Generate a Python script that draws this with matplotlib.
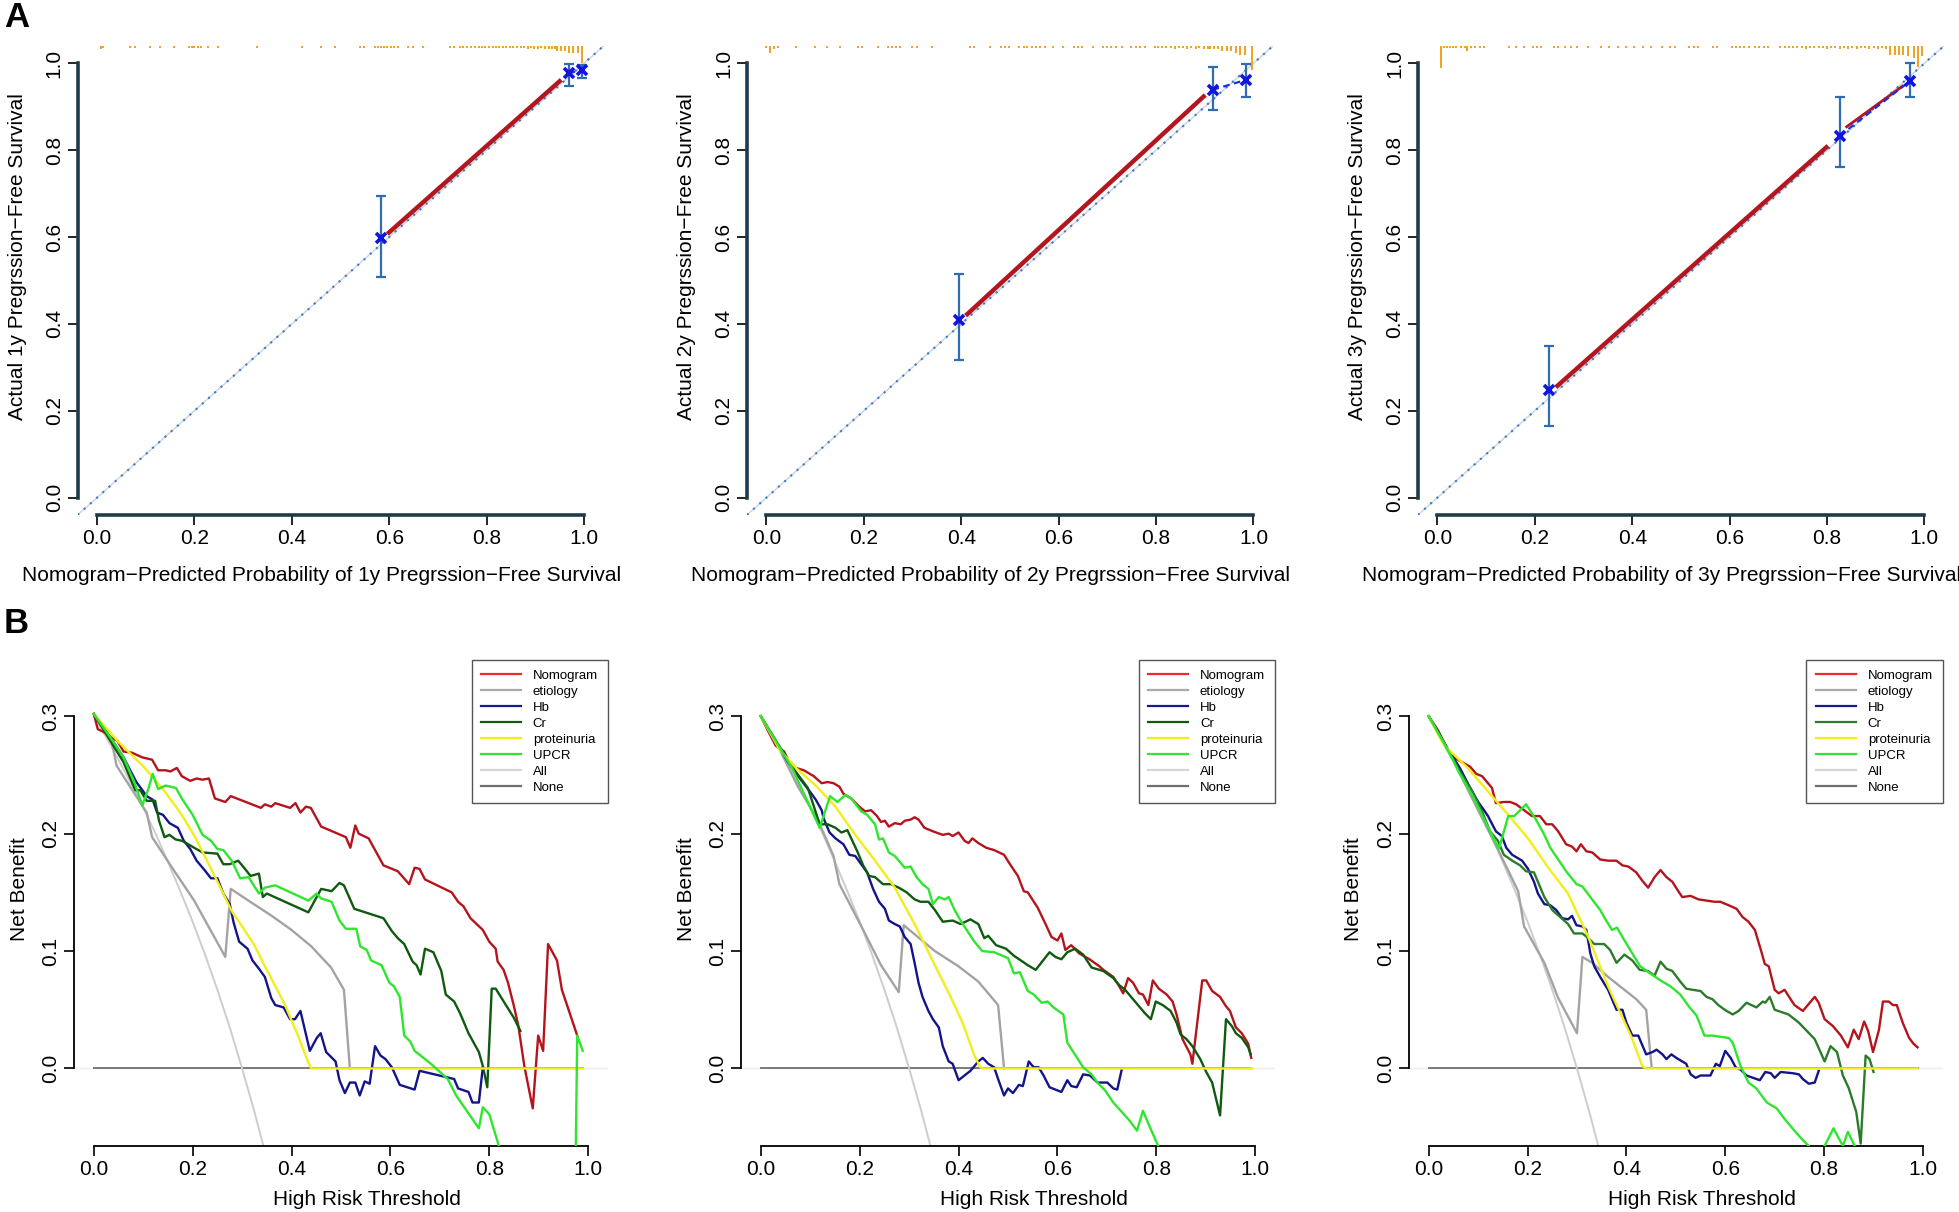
import matplotlib
matplotlib.use("Agg")
import matplotlib.pyplot as plt
from matplotlib.lines import Line2D
from matplotlib.transforms import offset_copy
import numpy as np

plt.rcParams['font.family'] = ['Liberation Sans', 'DejaVu Sans']

# ---------------- A: calibration data ----------------
cal1_pred = [0.583, 0.968, 0.995]
cal1_obs = [0.597, 0.977, 0.985]
cal1_lo = [0.507, 0.947, 0.967]
cal1_hi = [0.694, 0.998, 0.996]
cal1_red = [[(0.596, 0.607), (0.953, 0.962)]]

cal2_pred = [0.395, 0.916, 0.985]
cal2_obs = [0.408, 0.939, 0.962]
cal2_lo = [0.317, 0.893, 0.923]
cal2_hi = [0.514, 0.992, 0.999]
cal2_red = [[(0.409, 0.419), (0.901, 0.927)]]

cal3_pred = [0.230, 0.826, 0.970]
cal3_obs = [0.248, 0.833, 0.959]
cal3_lo = [0.165, 0.761, 0.923]
cal3_hi = [0.348, 0.922, 1.000]
cal3_red = [[(0.243, 0.254), (0.802, 0.810)], [(0.838, 0.852), (0.957, 0.949)]]

# distribution of predictions (rug on top), position and count
rug1_x = [0.008, 0.012, 0.068, 0.077, 0.108, 0.130, 0.158, 0.188, 0.194, 0.200,
          0.207, 0.214, 0.227, 0.248, 0.328, 0.420, 0.459, 0.489, 0.540, 0.549,
          0.570, 0.576, 0.583, 0.590, 0.596, 0.603, 0.609, 0.617, 0.639, 0.648,
          0.669, 0.725, 0.733, 0.746, 0.752, 0.760, 0.768, 0.776, 0.784, 0.790,
          0.797, 0.805, 0.812, 0.820, 0.826, 0.833, 0.840, 0.847, 0.855, 0.862,
          0.870, 0.877, 0.884, 0.890, 0.897, 0.905, 0.912, 0.920, 0.927, 0.934,
          0.940, 0.944, 0.952, 0.961, 0.970, 0.978, 0.987, 0.996]
rug1_n = [2, 1, 1, 1, 1, 1, 1, 1, 1, 1,
          1, 1, 1, 1, 1, 1, 1, 1, 1, 1,
          1, 1, 1, 1, 1, 1, 1, 1, 1, 1,
          1, 1, 1, 1, 1, 1, 1, 1, 1, 1,
          1, 1, 1, 1, 1, 1, 1, 1, 1, 1,
          1, 1, 2, 1, 2, 2, 1, 2, 2, 2,
          2, 3, 3, 3, 4, 4, 4, 10]

rug2_x = [0.000, 0.007, 0.015, 0.023, 0.060, 0.099, 0.124, 0.150, 0.189, 0.197,
          0.229, 0.249, 0.258, 0.266, 0.275, 0.298, 0.309, 0.339, 0.418, 0.427,
          0.459, 0.481, 0.489, 0.498, 0.519, 0.528, 0.536, 0.545, 0.554, 0.562,
          0.571, 0.588, 0.609, 0.631, 0.639, 0.648, 0.670, 0.691, 0.700, 0.708,
          0.717, 0.730, 0.749, 0.758, 0.768, 0.777, 0.798, 0.804, 0.813, 0.821,
          0.830, 0.838, 0.847, 0.855, 0.864, 0.872, 0.881, 0.889, 0.898, 0.906,
          0.910, 0.919, 0.928, 0.936, 0.945, 0.953, 0.964, 0.973, 0.983, 0.996]
rug2_n = [1, 4, 2, 1, 1, 1, 1, 1, 1, 1,
          1, 1, 1, 1, 1, 1, 1, 1, 1, 1,
          1, 1, 1, 1, 1, 1, 1, 1, 1, 1,
          1, 1, 1, 1, 1, 1, 1, 1, 1, 1,
          1, 1, 1, 1, 1, 1, 1, 1, 1, 1,
          1, 2, 1, 1, 2, 1, 2, 1, 2, 2,
          2, 2, 2, 3, 3, 3, 4, 5, 5, 14]

rug3_x = [0.007, 0.013, 0.019, 0.026, 0.033, 0.039, 0.048, 0.057, 0.061, 0.068,
          0.077, 0.087, 0.096, 0.148, 0.161, 0.178, 0.196, 0.204, 0.213, 0.239,
          0.248, 0.261, 0.274, 0.287, 0.309, 0.335, 0.352, 0.370, 0.387, 0.404,
          0.422, 0.439, 0.461, 0.478, 0.487, 0.517, 0.526, 0.535, 0.565, 0.574,
          0.604, 0.613, 0.622, 0.630, 0.639, 0.652, 0.661, 0.670, 0.678, 0.704,
          0.713, 0.722, 0.730, 0.739, 0.748, 0.757, 0.765, 0.774, 0.783, 0.791,
          0.800, 0.809, 0.817, 0.826, 0.835, 0.843, 0.852, 0.861, 0.870, 0.878,
          0.887, 0.896, 0.904, 0.913, 0.922, 0.930, 0.939, 0.948, 0.957, 0.967,
          0.978, 0.987, 0.996]
rug3_n = [13, 1, 1, 1, 1, 1, 1, 1, 3, 1,
          1, 1, 1, 1, 1, 1, 1, 1, 1, 1,
          1, 1, 1, 1, 1, 1, 1, 1, 1, 1,
          1, 1, 1, 1, 1, 1, 1, 1, 1, 1,
          1, 1, 1, 1, 1, 1, 1, 1, 1, 1,
          1, 1, 1, 1, 1, 2, 1, 1, 1, 1,
          2, 1, 1, 2, 1, 2, 1, 2, 1, 1,
          2, 1, 2, 1, 2, 5, 5, 5, 5, 6,
          7, 12, 6]

# ---------------- B: decision curves (threshold, net benefit) ----------------
nb_all = [(0.000, 0.300), (0.025, 0.282), (0.050, 0.263), (0.075, 0.243), (0.100, 0.222),
          (0.125, 0.200), (0.150, 0.176), (0.175, 0.151), (0.200, 0.125), (0.225, 0.097),
          (0.250, 0.067), (0.275, 0.035), (0.300, 0.000), (0.325, -0.037), (0.350, -0.077)]
nb_none = [(0.0, 0.0), (0.99, 0.0)]

b1_nomogram = [(0.000, 0.302), (0.008, 0.289), (0.023, 0.286), (0.035, 0.282), (0.048, 0.279),
               (0.060, 0.270), (0.077, 0.269), (0.098, 0.265), (0.118, 0.263), (0.130, 0.254),
               (0.145, 0.254), (0.155, 0.253), (0.168, 0.256), (0.178, 0.249), (0.195, 0.245),
               (0.208, 0.247), (0.220, 0.246), (0.233, 0.247), (0.245, 0.230), (0.266, 0.227),
               (0.277, 0.232), (0.338, 0.222), (0.346, 0.225), (0.359, 0.223), (0.367, 0.226),
               (0.397, 0.222), (0.408, 0.226), (0.418, 0.218), (0.429, 0.223), (0.439, 0.222),
               (0.460, 0.206), (0.477, 0.203), (0.510, 0.197), (0.519, 0.188), (0.529, 0.207),
               (0.536, 0.200), (0.556, 0.196), (0.586, 0.173), (0.615, 0.168), (0.638, 0.157),
               (0.649, 0.171), (0.659, 0.170), (0.670, 0.161), (0.724, 0.150), (0.737, 0.142),
               (0.748, 0.138), (0.762, 0.128), (0.787, 0.118), (0.800, 0.108), (0.813, 0.102),
               (0.817, 0.091), (0.829, 0.084), (0.838, 0.073), (0.850, 0.053), (0.859, 0.036),
               (0.871, 0.002), (0.888, -0.034), (0.899, 0.028), (0.909, 0.015), (0.919, 0.106),
               (0.937, 0.092), (0.947, 0.067), (0.978, 0.028)]
b1_etiology = [(0.000, 0.302), (0.035, 0.281), (0.046, 0.258), (0.107, 0.218), (0.118, 0.197),
               (0.160, 0.170), (0.203, 0.143), (0.266, 0.095), (0.277, 0.153), (0.320, 0.141),
               (0.360, 0.130), (0.400, 0.118), (0.440, 0.104), (0.480, 0.086), (0.506, 0.067),
               (0.518, 0.000)]
b1_hb = [(0.000, 0.302), (0.035, 0.281), (0.060, 0.265), (0.086, 0.244), (0.107, 0.232),
         (0.119, 0.229), (0.128, 0.218), (0.140, 0.216), (0.153, 0.209), (0.170, 0.205),
         (0.182, 0.194), (0.195, 0.187), (0.208, 0.177), (0.224, 0.169), (0.237, 0.162),
         (0.250, 0.162), (0.262, 0.149), (0.275, 0.140), (0.283, 0.124), (0.294, 0.108),
         (0.311, 0.102), (0.321, 0.092), (0.334, 0.085), (0.346, 0.078), (0.359, 0.060),
         (0.367, 0.054), (0.384, 0.052), (0.397, 0.042), (0.407, 0.042), (0.418, 0.049),
         (0.437, 0.015), (0.451, 0.026), (0.459, 0.030), (0.470, 0.014), (0.489, 0.006),
         (0.497, -0.010), (0.508, -0.021), (0.518, -0.012), (0.529, -0.012), (0.538, -0.023),
         (0.548, -0.011), (0.558, -0.013), (0.569, 0.019), (0.580, 0.011), (0.590, 0.008),
         (0.603, 0.001), (0.619, -0.014), (0.649, -0.018), (0.659, -0.002), (0.729, -0.009),
         (0.737, -0.017), (0.758, -0.020), (0.766, -0.029), (0.779, -0.029), (0.787, 0.001)]
b1_cr = [(0.000, 0.302), (0.035, 0.278), (0.060, 0.261), (0.084, 0.237), (0.094, 0.237),
         (0.107, 0.228), (0.124, 0.228), (0.132, 0.211), (0.143, 0.197), (0.153, 0.199),
         (0.166, 0.195), (0.178, 0.194), (0.191, 0.191), (0.203, 0.188), (0.220, 0.184),
         (0.250, 0.183), (0.262, 0.174), (0.275, 0.174), (0.292, 0.177), (0.304, 0.171),
         (0.317, 0.164), (0.334, 0.166), (0.342, 0.146), (0.350, 0.149), (0.434, 0.133),
         (0.460, 0.153), (0.481, 0.151), (0.497, 0.158), (0.506, 0.156), (0.527, 0.136),
         (0.586, 0.128), (0.603, 0.117), (0.615, 0.111), (0.628, 0.106), (0.645, 0.091),
         (0.653, 0.088), (0.661, 0.080), (0.670, 0.102), (0.687, 0.099), (0.703, 0.083),
         (0.712, 0.063), (0.729, 0.057), (0.741, 0.047), (0.758, 0.030), (0.779, 0.014),
         (0.787, 0.002), (0.796, -0.016), (0.805, 0.068), (0.813, 0.068), (0.850, 0.043),
         (0.863, 0.032)]
b1_proteinuria = [(0.000, 0.302), (0.048, 0.279), (0.103, 0.256), (0.140, 0.238), (0.178, 0.216),
                  (0.205, 0.197), (0.229, 0.177), (0.255, 0.155), (0.279, 0.134), (0.300, 0.121),
                  (0.325, 0.105), (0.346, 0.087), (0.370, 0.068), (0.388, 0.053), (0.413, 0.028),
                  (0.434, 0.005), (0.440, 0.000), (0.990, 0.000)]
b1_upcr = [(0.000, 0.302), (0.035, 0.281), (0.060, 0.265), (0.082, 0.244), (0.098, 0.224),
           (0.111, 0.239), (0.119, 0.251), (0.130, 0.238), (0.145, 0.241), (0.166, 0.239),
           (0.178, 0.230), (0.200, 0.216), (0.220, 0.199), (0.237, 0.194), (0.250, 0.187),
           (0.262, 0.186), (0.279, 0.177), (0.296, 0.162), (0.313, 0.163), (0.334, 0.149),
           (0.346, 0.154), (0.367, 0.156), (0.434, 0.143), (0.451, 0.149), (0.459, 0.145),
           (0.481, 0.142), (0.497, 0.126), (0.510, 0.119), (0.531, 0.119), (0.539, 0.104),
           (0.552, 0.101), (0.561, 0.092), (0.582, 0.088), (0.598, 0.073), (0.607, 0.070),
           (0.619, 0.061), (0.628, 0.028), (0.640, 0.023), (0.649, 0.015), (0.682, 0.004),
           (0.716, -0.009), (0.733, -0.023), (0.779, -0.051), (0.787, -0.033), (0.800, -0.039),
           (0.821, -0.068), (np.nan, np.nan), (0.975, -0.070), (0.978, 0.028), (0.989, 0.015)]

b2_nomogram = [(0.000, 0.300), (0.014, 0.288), (0.030, 0.275), (0.047, 0.270), (0.055, 0.263),
               (0.071, 0.256), (0.087, 0.254), (0.107, 0.249), (0.123, 0.243), (0.135, 0.244),
               (0.147, 0.243), (0.159, 0.240), (0.167, 0.234), (0.183, 0.230), (0.199, 0.223),
               (0.211, 0.219), (0.223, 0.220), (0.235, 0.215), (0.243, 0.210), (0.251, 0.211),
               (0.259, 0.206), (0.271, 0.209), (0.283, 0.208), (0.291, 0.211), (0.303, 0.212),
               (0.311, 0.214), (0.319, 0.212), (0.331, 0.205), (0.348, 0.202), (0.368, 0.199),
               (0.380, 0.200), (0.388, 0.198), (0.400, 0.201), (0.412, 0.194), (0.420, 0.192),
               (0.428, 0.196), (0.440, 0.192), (0.456, 0.188), (0.472, 0.186), (0.492, 0.182),
               (0.504, 0.174), (0.520, 0.164), (0.532, 0.151), (0.540, 0.150), (0.560, 0.137),
               (0.576, 0.123), (0.588, 0.112), (0.600, 0.109), (0.608, 0.115), (0.616, 0.101),
               (0.628, 0.105), (0.644, 0.098), (0.665, 0.093), (0.685, 0.087), (0.693, 0.084),
               (0.713, 0.078), (0.725, 0.070), (0.733, 0.064), (0.743, 0.077), (0.753, 0.073),
               (0.765, 0.064), (0.773, 0.063), (0.784, 0.054), (0.793, 0.075), (0.805, 0.068),
               (0.821, 0.063), (0.833, 0.057), (0.841, 0.046), (0.853, 0.025), (0.869, 0.012),
               (0.873, 0.004), (0.893, 0.075), (0.901, 0.075), (0.913, 0.066), (0.929, 0.061),
               (0.941, 0.053), (0.949, 0.049), (0.961, 0.035), (0.973, 0.030), (0.986, 0.021),
               (0.992, 0.009)]
b2_etiology = [(0.000, 0.300), (0.040, 0.270), (0.075, 0.240), (0.115, 0.212), (0.147, 0.181),
               (0.159, 0.157), (0.207, 0.118), (0.243, 0.088), (0.279, 0.065), (0.289, 0.122),
               (0.352, 0.100), (0.400, 0.087), (0.440, 0.074), (0.480, 0.054), (0.492, 0.000)]
b2_hb = [(0.000, 0.300), (0.055, 0.261), (0.079, 0.247), (0.099, 0.236), (0.111, 0.229),
         (0.123, 0.220), (0.127, 0.213), (0.139, 0.201), (0.151, 0.196), (0.167, 0.191),
         (0.179, 0.182), (0.191, 0.181), (0.203, 0.174), (0.215, 0.167), (0.227, 0.153),
         (0.239, 0.142), (0.251, 0.136), (0.259, 0.126), (0.271, 0.123), (0.281, 0.121),
         (0.291, 0.112), (0.303, 0.106), (0.311, 0.090), (0.319, 0.073), (0.327, 0.061),
         (0.339, 0.049), (0.348, 0.042), (0.360, 0.035), (0.368, 0.019), (0.380, 0.006),
         (0.388, 0.004), (0.400, -0.010), (0.424, -0.002), (0.432, 0.002), (0.440, 0.006),
         (0.449, 0.009), (0.460, 0.004), (0.472, 0.001), (0.480, -0.009), (0.492, -0.023),
         (0.500, -0.017), (0.510, -0.021), (0.522, -0.014), (0.530, -0.015), (0.542, 0.006),
         (0.552, 0.001), (0.562, 0.001), (0.572, -0.006), (0.584, -0.016), (0.608, -0.020),
         (0.620, -0.010), (0.628, -0.015), (0.639, -0.016), (0.652, -0.005), (0.666, -0.006),
         (0.681, -0.012), (0.701, -0.012), (0.713, -0.017), (0.721, -0.018), (0.730, -0.001)]
b2_cr = [(0.000, 0.300), (0.063, 0.257), (0.095, 0.239), (0.119, 0.208), (0.135, 0.208),
         (0.151, 0.205), (0.163, 0.201), (0.175, 0.203), (0.195, 0.185), (0.207, 0.173),
         (0.219, 0.164), (0.231, 0.163), (0.247, 0.157), (0.263, 0.157), (0.279, 0.154),
         (0.295, 0.150), (0.311, 0.144), (0.323, 0.142), (0.339, 0.142), (0.352, 0.135),
         (0.368, 0.125), (0.388, 0.126), (0.404, 0.123), (0.424, 0.127), (0.440, 0.123),
         (0.452, 0.111), (0.460, 0.113), (0.476, 0.105), (0.496, 0.102), (0.512, 0.096),
         (0.540, 0.088), (0.556, 0.084), (0.584, 0.099), (0.596, 0.095), (0.608, 0.093),
         (0.620, 0.099), (0.636, 0.102), (0.652, 0.097), (0.669, 0.086), (0.693, 0.083),
         (0.713, 0.077), (0.725, 0.071), (0.737, 0.067), (0.749, 0.061), (0.765, 0.053),
         (0.777, 0.047), (0.789, 0.042), (0.799, 0.057), (0.813, 0.054), (0.829, 0.049),
         (0.841, 0.039), (0.849, 0.029), (0.861, 0.025), (0.873, 0.019), (0.889, 0.008),
         (0.901, -0.003), (0.913, -0.012), (0.929, -0.040), (0.941, 0.042), (0.953, 0.036),
         (0.961, 0.030), (0.973, 0.026), (0.986, 0.018), (0.991, 0.012)]
b2_proteinuria = [(0.000, 0.300), (0.039, 0.271), (0.071, 0.256), (0.111, 0.241), (0.151, 0.223),
                  (0.191, 0.199), (0.231, 0.177), (0.271, 0.154), (0.311, 0.123), (0.352, 0.088),
                  (0.384, 0.061), (0.408, 0.039), (0.432, 0.011), (0.444, 0.001), (0.449, 0.000),
                  (0.994, 0.000)]
b2_upcr = [(0.000, 0.300), (0.063, 0.256), (0.095, 0.227), (0.119, 0.205), (0.140, 0.232),
           (0.155, 0.227), (0.171, 0.233), (0.183, 0.230), (0.203, 0.219), (0.215, 0.216),
           (0.231, 0.208), (0.239, 0.195), (0.247, 0.196), (0.259, 0.184), (0.271, 0.181),
           (0.291, 0.171), (0.303, 0.172), (0.315, 0.163), (0.327, 0.157), (0.339, 0.153),
           (0.348, 0.140), (0.360, 0.146), (0.372, 0.144), (0.380, 0.146), (0.392, 0.135),
           (0.404, 0.126), (0.432, 0.108), (0.448, 0.100), (0.472, 0.099), (0.500, 0.094),
           (0.512, 0.081), (0.524, 0.082), (0.540, 0.066), (0.552, 0.063), (0.568, 0.056),
           (0.580, 0.057), (0.592, 0.052), (0.612, 0.046), (0.620, 0.022), (0.652, 0.001),
           (0.669, -0.005), (0.681, -0.012), (0.697, -0.019), (0.713, -0.029), (0.745, -0.044),
           (0.761, -0.053), (0.773, -0.036), (0.785, -0.048), (0.808, -0.070)]

b3_nomogram = [(0.000, 0.300), (0.019, 0.288), (0.035, 0.274), (0.051, 0.265), (0.067, 0.261),
               (0.084, 0.257), (0.096, 0.251), (0.108, 0.249), (0.120, 0.243), (0.128, 0.239),
               (0.136, 0.226), (0.152, 0.227), (0.165, 0.227), (0.177, 0.225), (0.193, 0.220),
               (0.209, 0.215), (0.225, 0.215), (0.238, 0.208), (0.250, 0.208), (0.262, 0.202),
               (0.278, 0.191), (0.290, 0.189), (0.299, 0.185), (0.308, 0.191), (0.319, 0.185),
               (0.331, 0.184), (0.347, 0.178), (0.363, 0.177), (0.380, 0.177), (0.392, 0.173),
               (0.404, 0.172), (0.420, 0.167), (0.432, 0.160), (0.444, 0.154), (0.457, 0.163),
               (0.469, 0.169), (0.481, 0.163), (0.493, 0.159), (0.505, 0.151), (0.513, 0.146),
               (0.530, 0.147), (0.546, 0.144), (0.562, 0.143), (0.578, 0.142), (0.590, 0.142),
               (0.607, 0.139), (0.623, 0.136), (0.635, 0.129), (0.647, 0.125), (0.660, 0.118),
               (0.672, 0.101), (0.680, 0.089), (0.688, 0.087), (0.700, 0.067), (0.708, 0.064),
               (0.720, 0.067), (0.740, 0.054), (0.757, 0.049), (0.767, 0.054), (0.781, 0.061),
               (0.789, 0.056), (0.801, 0.042), (0.818, 0.036), (0.834, 0.028), (0.848, 0.018),
               (0.860, 0.033), (0.870, 0.025), (0.881, 0.040), (0.889, 0.032), (0.899, 0.014),
               (0.911, 0.033), (0.919, 0.057), (0.931, 0.057), (0.939, 0.054), (0.947, 0.054),
               (0.959, 0.039), (0.972, 0.026), (0.981, 0.021), (0.989, 0.018)]
b3_etiology = [(0.000, 0.300), (0.050, 0.262), (0.100, 0.220), (0.136, 0.190), (0.165, 0.165),
               (0.181, 0.151), (0.193, 0.121), (0.234, 0.090), (0.262, 0.060), (0.300, 0.030),
               (0.311, 0.095), (0.331, 0.090), (0.363, 0.078), (0.396, 0.067), (0.420, 0.059),
               (0.440, 0.050), (0.451, 0.001)]
b3_hb = [(0.000, 0.300), (0.039, 0.272), (0.063, 0.256), (0.084, 0.239), (0.100, 0.227),
         (0.112, 0.220), (0.120, 0.215), (0.136, 0.202), (0.148, 0.198), (0.157, 0.188),
         (0.169, 0.182), (0.189, 0.177), (0.201, 0.170), (0.213, 0.159), (0.221, 0.149),
         (0.234, 0.140), (0.246, 0.139), (0.258, 0.135), (0.270, 0.128), (0.282, 0.127),
         (0.290, 0.130), (0.299, 0.122), (0.311, 0.121), (0.319, 0.118), (0.327, 0.098),
         (0.335, 0.087), (0.347, 0.078), (0.363, 0.067), (0.380, 0.050), (0.392, 0.050),
         (0.400, 0.039), (0.412, 0.028), (0.424, 0.028), (0.440, 0.012), (0.453, 0.014),
         (0.461, 0.016), (0.473, 0.012), (0.481, 0.008), (0.491, 0.012), (0.501, 0.009),
         (0.513, 0.006), (0.521, 0.004), (0.530, -0.005), (0.540, -0.008), (0.550, -0.006),
         (0.570, -0.006), (0.581, 0.004), (0.589, 0.002), (0.600, 0.015), (0.611, 0.009),
         (0.621, 0.001), (0.631, -0.001), (0.643, -0.006), (0.670, -0.010), (0.681, -0.003),
         (0.692, -0.004), (0.700, -0.008), (0.712, -0.003), (0.736, -0.004), (0.749, -0.005),
         (0.757, -0.009), (0.769, -0.013), (0.781, -0.012), (0.789, -0.002)]
b3_cr = [(0.000, 0.300), (0.039, 0.272), (0.063, 0.253), (0.088, 0.236), (0.108, 0.219),
         (0.124, 0.202), (0.140, 0.194), (0.152, 0.182), (0.169, 0.177), (0.185, 0.173),
         (0.197, 0.168), (0.213, 0.167), (0.221, 0.159), (0.234, 0.146), (0.250, 0.135),
         (0.266, 0.129), (0.282, 0.123), (0.294, 0.115), (0.311, 0.115), (0.323, 0.111),
         (0.335, 0.106), (0.355, 0.106), (0.367, 0.101), (0.380, 0.090), (0.396, 0.097),
         (0.412, 0.092), (0.427, 0.084), (0.444, 0.083), (0.457, 0.079), (0.469, 0.091),
         (0.481, 0.085), (0.493, 0.083), (0.509, 0.074), (0.521, 0.068), (0.534, 0.067),
         (0.550, 0.066), (0.562, 0.061), (0.574, 0.059), (0.586, 0.054), (0.599, 0.050),
         (0.615, 0.046), (0.627, 0.049), (0.643, 0.056), (0.663, 0.052), (0.676, 0.057),
         (0.681, 0.056), (0.690, 0.061), (0.700, 0.050), (0.728, 0.046), (0.749, 0.039),
         (0.765, 0.032), (0.781, 0.025), (0.801, 0.006), (0.813, 0.019), (0.826, 0.014),
         (0.838, -0.006), (0.850, -0.017), (0.865, -0.037), (0.874, -0.064), (0.884, 0.011),
         (0.892, 0.008), (0.900, -0.003)]
b3_proteinuria = [(0.000, 0.300), (0.030, 0.276), (0.079, 0.256), (0.120, 0.236), (0.161, 0.216),
                  (0.201, 0.196), (0.242, 0.171), (0.282, 0.149), (0.323, 0.112), (0.363, 0.070),
                  (0.388, 0.047), (0.412, 0.025), (0.432, 0.002), (0.440, 0.000), (0.989, 0.000)]
b3_upcr = [(0.000, 0.300), (0.039, 0.271), (0.063, 0.251), (0.088, 0.233), (0.108, 0.216),
           (0.128, 0.199), (0.142, 0.187), (0.161, 0.215), (0.173, 0.215), (0.197, 0.225),
           (0.217, 0.212), (0.234, 0.199), (0.246, 0.188), (0.262, 0.178), (0.278, 0.168),
           (0.299, 0.157), (0.311, 0.155), (0.327, 0.146), (0.347, 0.135), (0.359, 0.126),
           (0.371, 0.118), (0.381, 0.120), (0.392, 0.112), (0.412, 0.098), (0.428, 0.087),
           (0.448, 0.081), (0.469, 0.075), (0.489, 0.070), (0.509, 0.063), (0.526, 0.053),
           (0.542, 0.045), (0.558, 0.028), (0.574, 0.028), (0.607, 0.026), (0.615, 0.022),
           (0.631, 0.002), (0.647, -0.012), (0.663, -0.017), (0.684, -0.029), (0.704, -0.034),
           (0.720, -0.043), (0.740, -0.053), (0.757, -0.061), (0.769, -0.066), (0.785, -0.075),
           (0.801, -0.066), (0.819, -0.051), (0.838, -0.066), (0.848, -0.054), (0.862, -0.066),
           (0.866, -0.075)]

model_names = ['Nomogram', 'etiology', 'Hb', 'Cr', 'proteinuria', 'UPCR', 'All', 'None']

# colours (lines drawn darker than the legend keys in the original)
line_cols = {'Nomogram': '#b5141c', 'etiology': '#a3a3a3', 'Hb': '#14148a',
             'Cr': '#0f5a0f', 'proteinuria': '#f2ee1a', 'UPCR': '#2ee62e',
             'All': '#cdcdcd', 'None': '#7a7a7a'}
leg_cols = {'Nomogram': '#ec2b2b', 'etiology': '#aaaaaa', 'Hb': '#1a1a90',
            'Cr': '#0f5a0f', 'proteinuria': '#f2ee1a', 'UPCR': '#2ee62e',
            'All': '#d6d6d6', 'None': '#6e6e6e'}

FS = 15
fig = plt.figure(figsize=(19.59, 12.12), dpi=100)

a_lefts = [0.0396, 0.3813, 0.7238]
b_lefts = [0.0378, 0.3783, 0.7192]

AXC = '#1f3b4b'


def label_text(ax, xlab, ylab, xcen, ycen, xoff, yoff):
    trx = offset_copy(ax.get_xaxis_transform(), fig=fig, y=-xoff, units='dots')
    ax.text(xcen, 0, xlab, transform=trx, ha='center', va='center', fontsize=FS)
    tryy = offset_copy(ax.get_yaxis_transform(), fig=fig, x=-yoff, units='dots')
    ax.text(0, ycen, ylab, transform=tryy, ha='center', va='center',
            rotation=90, fontsize=FS)


# ---------------- panel A ----------------
cal_sets = [(cal1_pred, cal1_obs, cal1_lo, cal1_hi, cal1_red, rug1_x, rug1_n, '1y'),
            (cal2_pred, cal2_obs, cal2_lo, cal2_hi, cal2_red, rug2_x, rug2_n, '2y'),
            (cal3_pred, cal3_obs, cal3_lo, cal3_hi, cal3_red, rug3_x, rug3_n, '3y')]

for i, (pred, obs, lo, hi, reds, rx, rn, yr) in enumerate(cal_sets):
    ax = fig.add_axes([a_lefts[i], 0.5751, 0.2685, 0.387])
    ax.set_xlim(-0.04, 1.04)
    ax.set_ylim(-0.04, 1.04)
    # ideal line
    ax.axline((0, 0), slope=1, color='#cfd6dc', lw=1.1, zorder=1)
    ax.axline((0, 0), slope=1, color='#3a78cc', lw=1.5, ls=(0, (1, 3)), zorder=2)
    # rug of predictions along the top
    rh = np.array(rn) * 0.0037
    ax.vlines(rx, 1 - rh, 1, transform=ax.get_xaxis_transform(),
              color='#f2a01e', lw=1.4, zorder=2)
    for k, seg in enumerate(reds):
        sx, sy = zip(*seg)
        ax.plot(sx, sy, color='#b3161e', lw=3.2 if k == 0 else 2.0,
                solid_capstyle='butt', zorder=3)
    yerr = [np.array(obs) - np.array(lo), np.array(hi) - np.array(obs)]
    ax.errorbar(pred, obs, yerr=yerr, fmt='none', ecolor='#2e6db4',
                elinewidth=1.6, capsize=3.5, capthick=1.6, zorder=4)
    ax.plot(pred[1:], obs[1:], color='#1a2ee8', lw=1.6, ls=(0, (3, 2)), zorder=5)
    ax.plot(pred, obs, ls='none', marker='x', ms=7, mew=2.6, color='#1414e0', zorder=6)

    ax.set_xticks(np.arange(0, 1.01, 0.2))
    ax.set_yticks(np.arange(0, 1.01, 0.2))
    ax.set_xticklabels(['0.0', '0.2', '0.4', '0.6', '0.8', '1.0'])
    ax.set_yticklabels(['0.0', '0.2', '0.4', '0.6', '0.8', '1.0'])
    for s in ['top', 'right']:
        ax.spines[s].set_visible(False)
    for s in ['left', 'bottom']:
        ax.spines[s].set_color(AXC)
        ax.spines[s].set_linewidth(2.6)
        ax.spines[s].set_bounds(0, 1)
    ax.tick_params(direction='out', length=7, width=1.2, color='black',
                   labelsize=FS, pad=3)
    for lbl in ax.get_yticklabels():
        lbl.set_rotation(90)
        lbl.set_va('center')
    label_text(ax,
               'Nomogram\u2212Predicted Probability of %s Pregrssion\u2212Free Survival' % yr,
               'Actual %s Pregrssion\u2212Free Survival' % yr,
               0.46, 0.555, 61, 60)

# ---------------- panel B ----------------
dca_sets = [[b1_nomogram, b1_etiology, b1_hb, b1_cr, b1_proteinuria, b1_upcr],
            [b2_nomogram, b2_etiology, b2_hb, b2_cr, b2_proteinuria, b2_upcr],
            [b3_nomogram, b3_etiology, b3_hb, b3_cr, b3_proteinuria, b3_upcr]]
cr_cols = ['#0f5a0f', '#0f5a0f', '#2b7b2b']

for i, curves in enumerate(dca_sets):
    ax = fig.add_axes([b_lefts[i], 0.0545, 0.2725, 0.401])
    ax.set_xlim(-0.04, 1.04)
    ax.set_ylim(-0.066, 0.348)
    lc = dict(line_cols)
    lc['Cr'] = cr_cols[i]
    gc = dict(leg_cols)
    gc['Cr'] = cr_cols[i]

    ax.axhline(0, color='#ededed', lw=1.0, zorder=1)
    nx, ny = zip(*nb_none)
    ax.plot(nx, ny, color=lc['None'], lw=1.4, zorder=2)
    axx, axy = zip(*nb_all)
    ax.plot(axx, axy, color=lc['All'], lw=1.4, zorder=2)
    for name, pts in zip(model_names[:6], curves):
        px, py = zip(*pts)
        ax.plot(px, py, color=lc[name], lw=1.7, zorder=3)

    handles = [Line2D([], [], color=gc[n], lw=1.6) for n in model_names]
    leg = ax.legend(handles, model_names, loc='upper right', bbox_to_anchor=(1, 1),
                    borderaxespad=0, fontsize=9.5, handlelength=3.0,
                    handletextpad=0.9, labelspacing=0.28, borderpad=0.75,
                    fancybox=False, framealpha=1)
    leg.get_frame().set_edgecolor('#555555')
    leg.get_frame().set_linewidth(1.0)

    ax.set_xticks(np.arange(0, 1.01, 0.2))
    ax.set_xticklabels(['0.0', '0.2', '0.4', '0.6', '0.8', '1.0'])
    ax.set_yticks([0.0, 0.1, 0.2, 0.3])
    ax.set_yticklabels(['0.0', '0.1', '0.2', '0.3'])
    for s in ['top', 'right']:
        ax.spines[s].set_visible(False)
    ax.spines['left'].set_bounds(0, 0.3)
    ax.spines['bottom'].set_bounds(0, 1)
    for s in ['left', 'bottom']:
        ax.spines[s].set_linewidth(1.3)
    ax.tick_params(direction='out', length=7, width=1.2, labelsize=FS, pad=3)
    for lbl in ax.get_yticklabels():
        lbl.set_rotation(90)
        lbl.set_va('center')
    label_text(ax, 'High Risk Threshold', 'Net Benefit', 0.552, 0.153, 54, 55)

fig.text(0.002, 0.999, 'A', ha='left', va='top', fontsize=25, fontweight='bold')
fig.text(0.002, 0.499, 'B', ha='left', va='top', fontsize=25, fontweight='bold')

fig.savefig('out.png', dpi=100)
